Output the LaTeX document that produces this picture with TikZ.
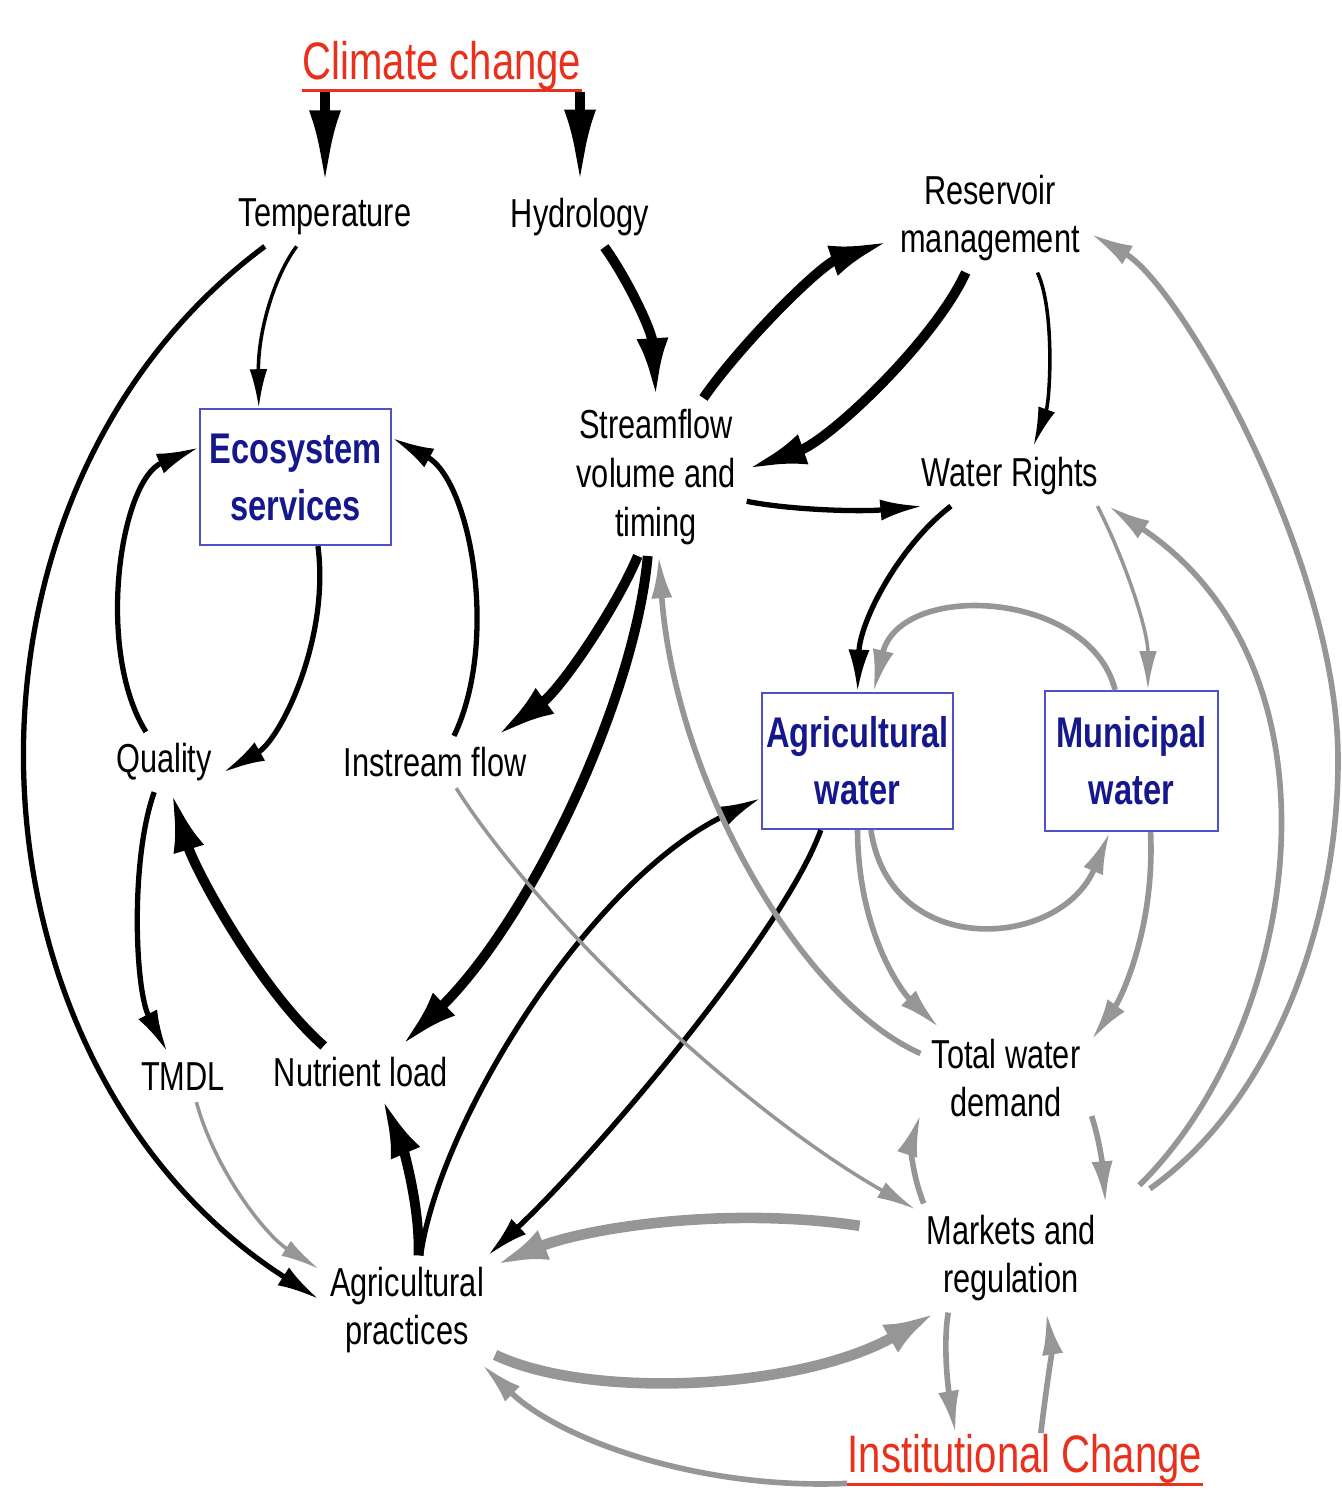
\documentclass[tikz,border=0pt]{standalone}
\usepackage{fontspec}
\setmainfont[FakeStretch=0.76]{Liberation Sans}
\usetikzlibrary{arrows.meta}
\definecolor{ccred}{RGB}{232,48,28}
\definecolor{boxblue}{RGB}{20,24,140}
\definecolor{boxline}{RGB}{80,80,200}
\definecolor{linkgray}{RGB}{150,150,150}

\begin{document}
\begin{tikzpicture}[x=0.01cm, y=-0.01cm,
    lbl/.style={align=center, inner sep=3pt, font=\fontsize{11.5}{13.9}\selectfont},
    blk/.style={draw=boxline, line width=0.6pt, text=boxblue, align=center, inner sep=0pt,
      minimum width=1.91cm, minimum height=1.36cm, font=\fontsize{12.2}{16.2}\selectfont\bfseries},
    ttl/.style={text=ccred, inner sep=0pt, anchor=base, font=\fontsize{15}{18}\selectfont},
    thinb/.style={draw=black, line width=1pt, -{Latex[length=11pt,width=5pt]}},
    medb/.style={draw=black, line width=1.5pt, -{Latex[length=12pt,width=6pt]}},
    thkb/.style={draw=black, line width=2.8pt, -{Latex[length=17pt,width=9pt]}},
    bigb/.style={draw=black, line width=3pt, -{Latex[length=22pt,width=9pt]}},
    thing/.style={draw=linkgray, line width=1pt, -{Latex[length=11pt,width=5pt]}},
    medg/.style={draw=linkgray, line width=1.6pt, -{Latex[length=12pt,width=6pt]}},
    thkg/.style={draw=linkgray, line width=3pt, -{Latex[length=15pt,width=9pt]}}]

    % Fix page size
    \useasboundingbox (0,0) rectangle (1341,1492);

    % Drivers
    \node[ttl] (cc) at (442,80) {Climate change};
    \node[ttl] (ic) at (1025,1472) {Institutional Change};
    \draw[ccred, line width=0.9pt] ([yshift=-3pt]cc.base west) -- ([yshift=-3pt]cc.base east);
    \draw[ccred, line width=0.9pt] ([yshift=-3.5pt]ic.base west) -- ([yshift=-3.5pt]ic.base east);

    % Variables
    \node[lbl] (temp) at (325,217) {Temperature};
    \node[lbl] (hyd) at (580,217) {Hydrology};
    \node[lbl] (res) at (990,218) {Reservoir\\management};
    \node[lbl] (stream) at (656,477) {Streamflow\\volume and\\timing};
    \node[lbl] (wr) at (1010,476) {Water Rights};
    \node[lbl] (quality) at (164,762) {Quality};
    \node[lbl] (instream) at (435,762) {Instream flow};
    \node[lbl] (tmdl) at (183,1077) {TMDL};
    \node[lbl] (nutrient) at (361,1072) {Nutrient load};
    \node[lbl] (twd) at (1006,1078) {Total water\\demand};
    \node[lbl] (agprac) at (407,1310) {Agricultural\\practices};
    \node[lbl] (markets) at (1011,1258) {Markets and\\regulation};

    % Boxed outcomes
    \node[blk] (eco) at (295.5,477) {Ecosystem\\services};
    \node[blk] (agw) at (857.5,761) {Agricultural\\water};
    \node[blk, minimum width=1.73cm, minimum height=1.4cm] (muni) at (1131.5,761) {Municipal\\water};

    % Climate links
    \draw[bigb] (cc.south -| temp.north) -- (temp.north);
    \draw[bigb] (cc.south -| hyd.north) -- (hyd.north);
    \draw[thinb] (temp.226) .. controls (275,275) and (258,330) .. (eco.118);
    \draw[medb] (temp.206) .. controls (-75,499) and (-45,1066) .. (agprac.173);
    \draw[thkb] (hyd.309) .. controls (625,275) and (652,330) .. (stream.north);

    % Streamflow, reservoir and rights
    \draw[thkb] (stream.59) .. controls (740,345) and (820,265) .. (res.193);
    \draw[thkb] (res.246) .. controls (935,340) and (830,440) .. (stream.5);
    \draw[medb] (stream.345) .. controls (790,510) and (860,512) .. (wr.199);
    \draw[thinb] (res.311) .. controls (1055,310) and (1050,400) .. (wr.52);
    \draw[medb] (wr.207) .. controls (900,545) and (860,620) .. (agw.north);

    % Ecosystem loop
    \draw[medb] (eco.288) .. controls (330,640) and (280,740) .. (quality.350);
    \draw[medb] (quality.121) .. controls (95,650) and (120,480) .. (eco.163);
    \draw[medb] (instream.54) .. controls (500,640) and (470,480) .. (eco.22);
    \draw[thkb] (stream.257) .. controls (615,610) and (560,690) .. (instream.23);
    \draw[thkb] (stream.264) .. controls (635,700) and (530,920) .. (nutrient.33);
    \draw[medb] (quality.252) .. controls (130,860) and (135,990) .. (tmdl.122);
    \draw[thkb] (nutrient.145) .. controls (260,990) and (195,870) .. (quality.284);
    \draw[thkb] (agprac.78) .. controls (420,1200) and (400,1140) .. (nutrient.309);
    \draw[medb] (agprac.76) .. controls (440,1120) and (590,880) .. (agw.201);
    \draw[medb] (agw.242) .. controls (785,930) and (600,1150) .. (agprac.34);

    % Demand side (gray)
    \draw[medg] (twd.164) .. controls (800,1000) and (675,780) .. (stream.272);
    \draw[thing] (instream.309) .. controls (540,920) and (740,1110) .. (markets.153);
    \draw[thing] (tmdl.298) .. controls (215,1170) and (265,1235) .. (agprac.155);
    \draw[medg] (muni.103) .. controls (1090,590) and (900,580) .. (agw.77);
    \draw[thing] (wr.341) .. controls (1125,560) and (1148,630) .. (muni.77);
    \draw[medg] (agw.281) .. controls (890,960) and (1060,950) .. (muni.253);
    \draw[medg] (agw.270) .. controls (858,930) and (900,990) .. (twd.143);
    \draw[medg] (muni.285) .. controls (1155,930) and (1120,1000) .. (twd.24);
    \draw[medg] (markets.148) .. controls (910,1170) and (912,1140) .. (twd.203);
    \draw[medg] (twd.336) .. controls (1098,1135) and (1102,1160) .. (markets.30);
    \draw[medg, shorten <=15pt] (markets.22) .. controls (1275,1100) and (1338,920) .. (1338,760)
        .. controls (1338,560) and (1180,285) .. (res.351);
    \draw[medg, shorten <=13pt] (markets.23) .. controls (1300,1027) and (1355,671) .. (wr.343);
    \draw[thkg, shorten <=16pt] (markets.166) .. controls (720,1205) and (580,1230) .. (agprac.27);
    \draw[thkg] (agprac.333) .. controls (590,1400) and (800,1390) .. (markets.216);
    \draw[medg] (markets.221) .. controls (942,1350) and (950,1400) .. (ic.160);
    \draw[medg] (ic.58) .. controls (1046,1390) and (1052,1350) .. (markets.303);
    \draw[medg] (ic.188) .. controls (700,1490) and (560,1440) .. (agprac.324);

\end{tikzpicture}
\end{document}
